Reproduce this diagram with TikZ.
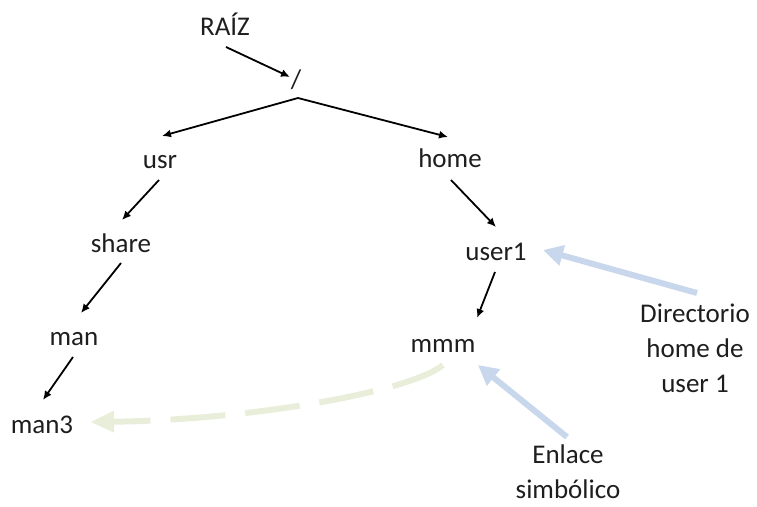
\documentclass[tikz,border=0pt]{standalone}
\usepackage{fontspec}
\setmainfont{Carlito}
\usetikzlibrary{arrows.meta}
\definecolor{linkgreen}{RGB}{232,238,218}
\definecolor{noteblue}{RGB}{200,215,236}
\definecolor{txt}{RGB}{30,30,30}
\tikzset{
  lbl/.style={anchor=base, inner sep=0pt, text=txt, font=\fontsize{27}{35}\selectfont},
  tree/.style={line width=1.8pt, -{Latex[length=9pt,width=8pt]}},
  note/.style={line width=6pt, noteblue, -{Triangle[length=20pt,width=20pt]}},
  symlink/.style={line width=6pt, linkgreen, dash pattern=on 55pt off 20pt, -{Triangle[length=24pt,width=20pt]}}
}
\begin{document}
\begin{tikzpicture}[x=1pt,y=-1pt]
\useasboundingbox (0,0) rectangle (757,506);
\node[lbl] (raiz) at (225,35) {RAÍZ};
\node[lbl] (root) at (296,88) {/};
\node[lbl] (usr) at (160,168) {usr};
\node[lbl] (home) at (450,167) {home};
\node[lbl] (share) at (121,252) {share};
\node[lbl] (user1) at (496,260) {user1};
\node[lbl] (man) at (74,345) {man};
\node[lbl] (mmm) at (443,352) {mmm};
\node[lbl] (man3) at (42,433) {man3};
\node[lbl, align=center] (dir) at (695,392) {Directorio\\home de\\user 1};
\node[lbl, align=center] (enl) at (568,498) {Enlace\\simbólico};

\draw[tree] ([shift={(1,12)}]raiz.base) -- ([shift={(-6,-11)}]root.base);
\draw[tree] ([shift={(2,10)}]root.base) -- ([shift={(2,-32)}]usr.base);
\draw[tree] ([shift={(2,10)}]root.base) -- ([shift={(-2,-30)}]home.base);
\draw[tree] ([shift={(-1,12)}]usr.base) -- ([shift={(1,-32)}]share.base);
\draw[tree] ([shift={(0,11)}]share.base) -- ([shift={(7,-32)}]man.base);
\draw[tree] ([shift={(-1,12)}]man.base) -- ([shift={(1,-33)}]man3.base);
\draw[tree] ([shift={(1,13)}]home.base) -- ([shift={(0,-33)}]user1.base);
\draw[tree] ([shift={(-1,12)}]user1.base) -- ([shift={(34,-34)}]mmm.base);

\draw[symlink] ([shift={(0,13)}]mmm.base) .. controls (410,392) and (250,420) .. ([shift={(48,-11)}]man3.base);
\draw[note] ([shift={(2,-99)}]dir.base) -- ([shift={(47,-10)}]user1.base);
\draw[note] ([shift={(-1,-61)}]enl.base) -- ([shift={(35,13)}]mmm.base);
\end{tikzpicture}
\end{document}
